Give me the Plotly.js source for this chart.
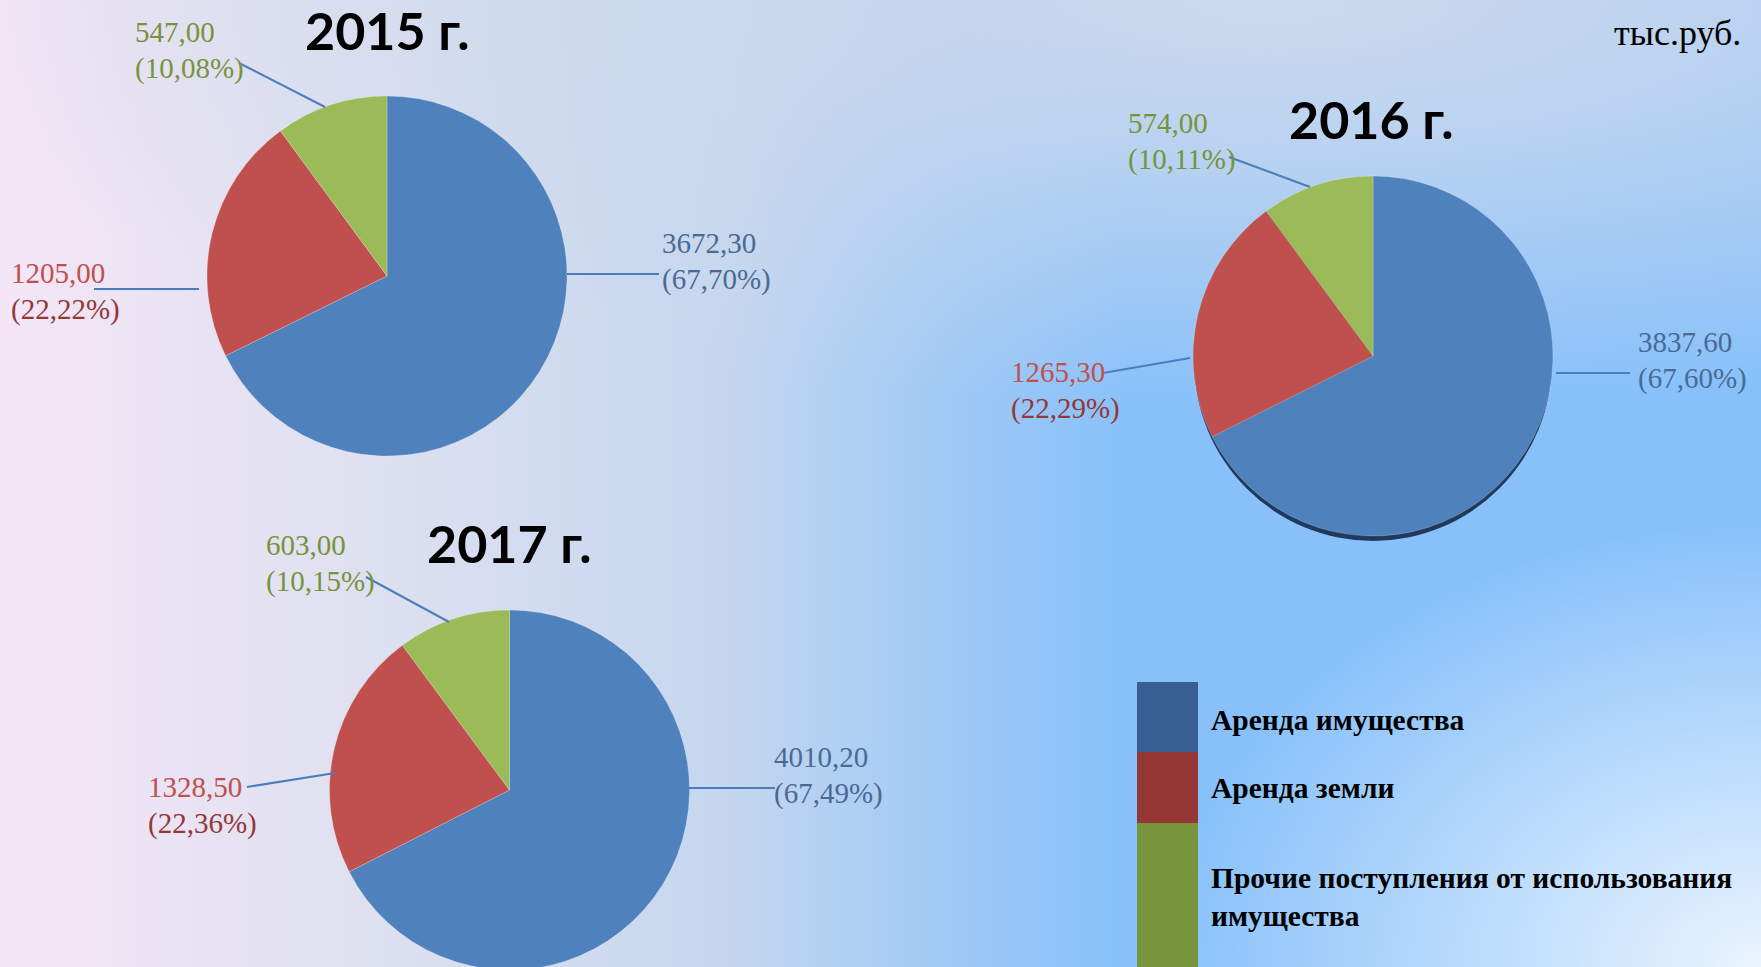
<!DOCTYPE html>
<html>
<head>
<meta charset="utf-8">
<script src="https://cdn.plot.ly/plotly-3.0.1.min.js"></script>
<style>
  html, body { margin:0; padding:0; width:1761px; height:967px; overflow:hidden; }
  html {
    background:
      radial-gradient(ellipse 34% 46% at 100% 100%, rgba(234,244,254,1) 0%, rgba(234,244,254,0) 100%),
      radial-gradient(ellipse 80% 42% at 72% 0%, rgba(204,217,237,1) 0%, rgba(204,217,237,0.75) 35%, rgba(204,217,237,0) 100%),
      linear-gradient(to right, #f4e6f6 0%, #dde0f0 22%, #c3d6ef 42%, #9cc8f6 55%, #88c1fa 64%, #88c1fa 100%);
  }
  #chart { width:1761px; height:1010px; }
</style>
</head>
<body>
<div id="chart"></div>
<script>
// ---------- DATA ----------
const years = ['2015 г.', '2016 г.', '2017 г.'];
const categories = ['Аренда имущества', 'Аренда земли', 'Прочие поступления от использования имущества'];
const values2015 = [3672.30, 1205.00, 547.00];
const values2016 = [3837.60, 1265.30, 574.00];
const values2017 = [4010.20, 1328.50, 603.00];
const unitLabel = 'тыс.руб.';

// ---------- STYLE / GEOMETRY ----------
const W = 1761, H = 1010;
const sliceColors = ['#4f81bd', '#c0504d', '#9bbb59'];
const legendColors = ['#366092', '#953735', '#77933c'];
const labelColors = [['#4a6a94', '#4a6a94'], ['#c0504d', '#953735'], ['#77933c', '#77933c']];
const serif = 'Liberation Serif, Times New Roman, serif';
const titleFont = 'Lato, Open Sans, sans-serif';

const pieGeom = [ {cx:387, cy:276, r:180}, {cx:1373, cy:356, r:180}, {cx:509.5, cy:790, r:180} ];
const titlePos = [ [387, 30], [1371, 119], [509, 543] ];
// label anchor: left x, middle y of the two-line block
const labelPos = [
  [[660, 261], [9, 291], [133, 50]],
  [[1636, 360], [1009, 390], [1126, 141]],
  [[772, 775], [146, 805], [264, 563]]
];
const halfGap = 18;
const leaders = [
  [[567,274,659,274], [94,289,199,289], [239,63,325,107]],
  [[1556,373,1630,373], [1103,373,1190,358], [1229,157,1310,187]],
  [[688,788,775,788], [247,787,335,773], [366,577,449,622]]
];

const px = x => x / W;
const py = y => 1 - y / H;
const fmt = v => v.toFixed(2).replace('.', ',');

// percentages with 2 decimals, largest-remainder so they sum to 100,00
function percents(vals) {
  const total = vals.reduce((a, b) => a + b, 0);
  const raw = vals.map(v => v / total * 10000);
  const fl = raw.map(Math.floor);
  let left = 10000 - fl.reduce((a, b) => a + b, 0);
  const order = raw.map((r, i) => [r - fl[i], i]).sort((a, b) => b[0] - a[0]);
  for (let j = 0; j < left; j++) fl[order[j][1]] += 1;
  return fl.map(n => (n / 100).toFixed(2).replace('.', ',') + '%');
}

const allValues = [values2015, values2016, values2017];
const traces = [];
const annotations = [];
const shapes = [];

const ann = (text, x, y, xanchor, font) => ({
  xref:'paper', yref:'paper', x: px(x), y: py(y), xanchor: xanchor, yanchor:'middle',
  showarrow:false, align:'left', text: text, font: font
});

allValues.forEach((vals, i) => {
  const g = pieGeom[i];
  traces.push({
    type: 'pie',
    values: vals,
    labels: categories,
    sort: false,
    direction: 'clockwise',
    rotation: 0,
    textinfo: 'none',
    hoverinfo: 'label+value+percent',
    marker: { colors: sliceColors, line: { width: 0.6, color: 'rgba(255,255,255,0.35)' } },
    domain: { x: [px(g.cx - g.r), px(g.cx + g.r)], y: [py(g.cy + g.r), py(g.cy - g.r)] },
    showlegend: false
  });
  const pcts = percents(vals);
  vals.forEach((v, k) => {
    const [lx, ly] = labelPos[i][k];
    annotations.push(ann(fmt(v), lx, ly - halfGap, 'left', { family: serif, size: 29, color: labelColors[k][0] }));
    annotations.push(ann('(' + pcts[k] + ')', lx, ly + halfGap, 'left', { family: serif, size: 29, color: labelColors[k][1] }));
    const l = leaders[i][k];
    shapes.push({ type:'line', xref:'paper', yref:'paper', x0:px(l[0]), y0:py(l[1]), x1:px(l[2]), y1:py(l[3]),
      line:{ color:'#4a7ebb', width:2 }, layer:'above' });
  });
  annotations.push({
    xref:'paper', yref:'paper', x: px(titlePos[i][0]), y: py(titlePos[i][1]), xanchor:'center', yanchor:'middle',
    showarrow:false, text: '<b>' + years[i] + '</b>',
    font: { family: titleFont, size: 52, color: '#000000', weight: 'bold' }
  });
});

// 3D-like rim shadow for the 2016 pie
const g2 = pieGeom[1];
shapes.push({ type:'circle', xref:'paper', yref:'paper', layer:'below',
  x0:px(g2.cx - g2.r + 1), x1:px(g2.cx + g2.r - 1), y0:py(g2.cy + g2.r + 5), y1:py(g2.cy - g2.r + 5),
  fillcolor:'#1f3a5c', line:{ width:0 } });

// unit label
annotations.push(ann(unitLabel, 1743, 33, 'right', { family: serif, size: 36, color:'#000000' }));

// legend (colour blocks + labels)
const legBlocks = [[682, 752], [752, 823], [823, 1010]];
const legText = [720, 788, 897];
const wrap = s => { const cut = s.lastIndexOf(' '); return s.length > 36 ? s.slice(0, cut) + '<br>' + s.slice(cut + 1) : s; };
categories.forEach((c, k) => {
  shapes.push({ type:'rect', xref:'paper', yref:'paper', x0:px(1137), x1:px(1198),
    y0:py(legBlocks[k][1]), y1:py(legBlocks[k][0]), fillcolor: legendColors[k], line:{ width:0 }, layer:'above' });
  annotations.push(ann('<b>' + wrap(c) + '</b>', 1209, legText[k], 'left',
    { family: serif, size: 29.5, color:'#000000', weight:'bold' }));
});

const layout = {
  width: W, height: H,
  margin: { l:0, r:0, t:0, b:0, pad:0 },
  paper_bgcolor: 'rgba(0,0,0,0)',
  plot_bgcolor: 'rgba(0,0,0,0)',
  showlegend: false,
  annotations: annotations,
  shapes: shapes
};

Plotly.newPlot('chart', traces, layout, { displayModeBar:false, staticPlot:true });
</script>
</body>
</html>
